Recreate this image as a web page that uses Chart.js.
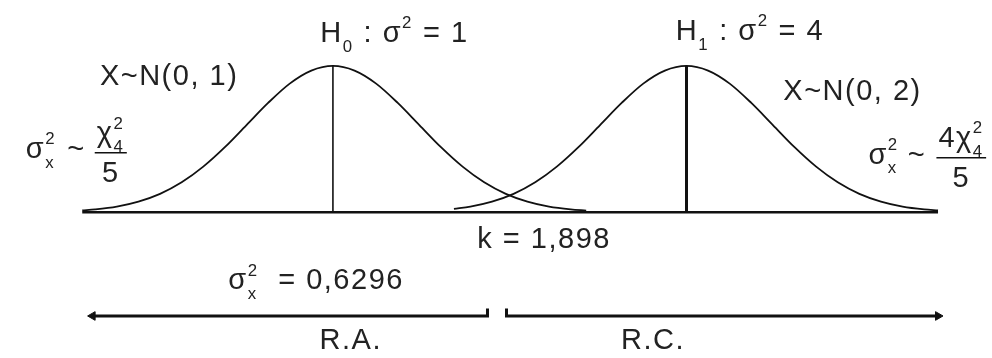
<!DOCTYPE html>
<html>
<head>
<meta charset="utf-8">
<script src="https://cdn.jsdelivr.net/npm/chart.js@4.4.1/dist/chart.umd.min.js"></script>
<style>
  html, body { margin: 0; padding: 0; background: #fff; }
  #wrap { width: 992px; height: 358px; position: relative; }
</style>
</head>
<body>
<div id="wrap"><canvas id="chart"></canvas></div>
<script>
// density under H0 (sigma^2 = 1), relative height
const h0X = [-2.9, -2.75, -2.5, -2.25, -2, -1.75, -1.5, -1.25, -1, -0.75, -0.5, -0.25, 0,
             0.25, 0.5, 0.75, 1, 1.25, 1.5, 1.75, 2, 2.25, 2.5, 2.75, 2.93];
const h0Y = [0.013, 0.020, 0.039, 0.073, 0.126, 0.205, 0.312, 0.445, 0.596, 0.747, 0.879, 0.968, 1,
             0.968, 0.879, 0.747, 0.596, 0.445, 0.312, 0.205, 0.126, 0.073, 0.039, 0.020, 0.012];

// density under H1 (sigma^2 = 4)
const h1X = [1.40, 1.59, 1.84, 2.09, 2.34, 2.59, 2.84, 3.09, 3.34, 3.59, 3.84, 4.09,
             4.34, 4.59, 4.84, 5.09, 5.34, 5.59, 5.84, 6.09, 6.34, 6.59, 6.84, 7.0];
const h1Y = [0.024, 0.039, 0.073, 0.126, 0.205, 0.312, 0.445, 0.596, 0.747, 0.879, 0.968, 1,
             0.968, 0.879, 0.747, 0.596, 0.445, 0.312, 0.205, 0.126, 0.073, 0.039, 0.020, 0.013];

const means = [0, 4.09];
const axisSpan = [-2.9, 7.0];
const k = 1.898;
const regionEnds = [-2.78, 7.0];

const toPts = (xs, ys) => xs.map((x, i) => ({ x, y: ys[i] }));

const INK = '#111';
const TEXT_INK = '#222';
const FONT = '"Liberation Sans", Arial, sans-serif';
const SIZE = 29;

// text blocks, anchored in data units
const texts = [
  { x: -0.147, y: 1.165, parts: ['H', { sub: '0' }, ' : σ', { sup: '2' }, ' = 1'] },
  { x: 3.967, y: 1.178, parts: ['H', { sub: '1' }, ' : σ', { sup: '2' }, ' = 4'] },
  { x: -2.696, y: 0.868, parts: ['X~N(0, 1)'] },
  { x: 5.21, y: 0.769, parts: ['X~N(0, 2)'] },
  { x: -3.553, y: 0.373, parts: ['σ', { sup: '2', sub: 'x' }] },
  { x: -3.073, y: 0.373, parts: ['~'] },
  { x: 6.195, y: 0.333, parts: ['σ', { sup: '2', sub: 'x' }] },
  { x: 6.651, y: 0.333, parts: ['~'] },
  { x: 1.67, y: -0.241, parts: ['k = 1,898'] },
  { x: -1.21, y: -0.525, parts: ['σ', { sup: '2', sub: 'x' }, '  = 0,6296'] },
  { x: 0.207, y: -0.934, parts: ['R.A.'], center: true },
  { x: 3.704, y: -0.934, parts: ['R.C.'], center: true }
];

const fractions = [
  { x: -2.57, y: 0.406, num: ['χ', { sup: '2', sub: '4' }], den: ['5'] },
  { x: 7.269, y: 0.373, num: ['4χ', { sup: '2', sub: '4' }], den: ['5'] }
];

function setFont(ctx, size, spacing) {
  ctx.font = size + 'px ' + FONT;
  if ('letterSpacing' in ctx) ctx.letterSpacing = spacing + 'px';
}

// runs of plain text plus stacked super/subscripts
function richWidth(ctx, parts, size) {
  let w = 0;
  for (const p of parts) {
    if (typeof p === 'string') {
      setFont(ctx, size, 1.5);
      w += ctx.measureText(p).width;
    } else {
      setFont(ctx, size * 0.58, 0);
      w += 2 + Math.max(ctx.measureText(p.sup || '').width, ctx.measureText(p.sub || '').width);
    }
  }
  return w;
}

function drawRich(ctx, parts, x, y, size) {
  for (const p of parts) {
    if (typeof p === 'string') {
      setFont(ctx, size, 1.5);
      ctx.fillText(p, x, y);
      x += ctx.measureText(p).width;
    } else {
      setFont(ctx, size * 0.58, 0);
      let w = 0;
      if (p.sup) {
        ctx.fillText(p.sup, x, y - size * 0.46);
        w = ctx.measureText(p.sup).width;
      }
      if (p.sub) {
        ctx.fillText(p.sub, x, y + size * 0.34);
        w = Math.max(w, ctx.measureText(p.sub).width);
      }
      x += w + 2;
    }
  }
}

const labelPlugin = {
  id: 'labels',
  afterDatasetsDraw(chart) {
    const { ctx, scales } = chart;
    ctx.save();
    ctx.fillStyle = TEXT_INK;
    ctx.strokeStyle = INK;
    ctx.textBaseline = 'alphabetic';
    ctx.textAlign = 'left';
    texts.forEach(t => {
      let px = scales.x.getPixelForValue(t.x);
      const py = scales.y.getPixelForValue(t.y);
      if (t.center) px -= richWidth(ctx, t.parts, SIZE) / 2;
      drawRich(ctx, t.parts, px, py, SIZE);
    });
    fractions.forEach(f => {
      const cx = scales.x.getPixelForValue(f.x);
      const by = scales.y.getPixelForValue(f.y);
      const nw = richWidth(ctx, f.num, SIZE);
      const dw = richWidth(ctx, f.den, SIZE);
      const bw = Math.max(nw, dw) + 4;
      drawRich(ctx, f.num, cx - nw / 2, by - 11, SIZE);
      drawRich(ctx, f.den, cx - dw / 2, by + 29, SIZE);
      ctx.lineWidth = 1.5;
      ctx.beginPath();
      ctx.moveTo(cx - bw / 2, by);
      ctx.lineTo(cx + bw / 2, by);
      ctx.stroke();
    });
    ctx.restore();
  }
};

const line = (data, width, extra) => Object.assign({
  data, showLine: true, borderColor: INK, borderWidth: width,
  pointRadius: 0, borderCapStyle: 'butt', fill: false
}, extra || {});

const regionY = -0.708;
const tickTop = -0.657;
const gap = 0.11;

new Chart(document.getElementById('chart'), {
  type: 'scatter',
  data: {
    datasets: [
      line([{ x: axisSpan[0], y: 0 }, { x: axisSpan[1], y: 0 }], 2.5),
      line(toPts(h0X, h0Y), 1.8, { cubicInterpolationMode: 'monotone' }),
      line(toPts(h1X, h1Y), 1.8, { cubicInterpolationMode: 'monotone' }),
      line([{ x: means[0], y: 0 }, { x: means[0], y: 1 }], 1.6),
      line([{ x: means[1], y: 0 }, { x: means[1], y: 1 }], 3),
      // acceptance region arrow
      line([{ x: regionEnds[0], y: regionY }, { x: k - gap, y: regionY }, { x: k - gap, y: tickTop }], 3, {
        pointRadius: [5, 0, 0], pointStyle: 'triangle', rotation: -90,
        pointBackgroundColor: INK, pointBorderColor: INK, pointBorderWidth: 1
      }),
      // critical region arrow
      line([{ x: k + gap, y: tickTop }, { x: k + gap, y: regionY }, { x: regionEnds[1], y: regionY }], 3, {
        pointRadius: [0, 0, 5], pointStyle: 'triangle', rotation: 90,
        pointBackgroundColor: INK, pointBorderColor: INK, pointBorderWidth: 1
      })
    ]
  },
  options: {
    responsive: true,
    maintainAspectRatio: false,
    animation: false,
    layout: { padding: 0 },
    plugins: { legend: { display: false }, tooltip: { enabled: false } },
    scales: {
      x: { type: 'linear', min: -3.782, max: 7.555, display: false },
      y: { type: 'linear', min: -0.954, max: 1.409, display: false }
    }
  },
  plugins: [labelPlugin]
});
</script>
</body>
</html>
